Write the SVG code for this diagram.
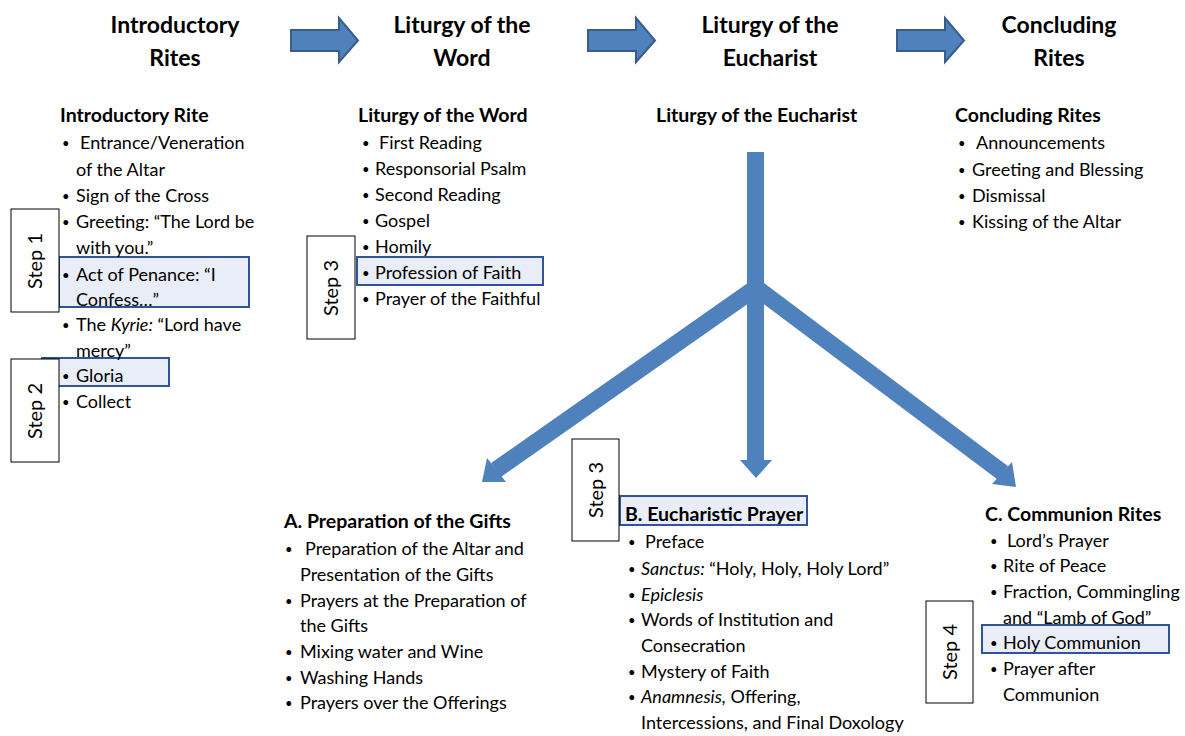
<svg xmlns="http://www.w3.org/2000/svg" width="1185" height="736" viewBox="0 0 1185 736">
<style>
text{font-family:Lato,"Liberation Sans",sans-serif;fill:#000}
.h{font-size:23px;font-weight:bold;text-anchor:middle}
.s{font-size:19.5px;font-weight:bold}
.t{font-size:18px}
.b{font-size:13px}
.hl{fill:#E9EDF7;stroke:#2F5597;stroke-width:2}
.st{fill:#fff;stroke:#000;stroke-width:1}
.stt{font-size:20px;text-anchor:middle}
.blk{fill:#4F81BD;stroke:#385D8A;stroke-width:2}
.fl{fill:#4F81BD}
</style>
<rect width="1185" height="736" fill="#fff"/>

<g id="connectors">
<polygon class="blk" points="291,30 339,30 339,18 358,40.5 339,62 339,51 291,51"/>
<polygon class="blk" points="588,30 636,30 636,18 655,40.5 636,62 636,51 588,51"/>
<polygon class="blk" points="897,30 945,30 945,18 964,40.5 945,62 945,51 897,51"/>
<rect class="fl" x="747" y="152" width="17" height="310"/>
<polygon class="fl" points="740,460 772,460 756,478"/>
<line x1="757" y1="287" x2="496" y2="470" stroke="#4F81BD" stroke-width="17"/>
<polygon class="fl" points="482,482 487,458 506,482"/>
<line x1="754" y1="286" x2="1003" y2="473" stroke="#4F81BD" stroke-width="17"/>
<polygon class="fl" points="1016,487 992,484 1012,462"/>
</g>

<g id="header-intro"><text class="h" x="175" y="33">Introductory</text><text class="h" x="175" y="66">Rites</text></g>
<g id="header-word"><text class="h" x="462" y="33">Liturgy of the</text><text class="h" x="462" y="66">Word</text></g>
<g id="header-eucharist"><text class="h" x="770" y="33">Liturgy of the</text><text class="h" x="770" y="66">Eucharist</text></g>
<g id="header-concluding"><text class="h" x="1059" y="33">Concluding</text><text class="h" x="1059" y="66">Rites</text></g>

<g id="intro-list">
<rect class="hl" x="59" y="257" width="190" height="50"/>
<rect class="hl" x="42" y="358" width="127" height="28"/>
<text class="s" x="60" y="122">Introductory Rite</text>
<text class="b" x="62" y="148">•</text><text class="t" x="80" y="149">Entrance/Veneration</text>
<text class="t" x="76" y="176">of the Altar</text>
<text class="b" x="62" y="201">•</text><text class="t" x="76" y="202">Sign of the Cross</text>
<text class="b" x="62" y="227">•</text><text class="t" x="76" y="228">Greeting: “The Lord be</text>
<text class="t" x="76" y="254">with you.”</text>
<text class="b" x="62" y="280">•</text><text class="t" x="76" y="281">Act of Penance: “I</text>
<text class="t" x="76" y="306">Confess…”</text>
<text class="b" x="62" y="330">•</text><text class="t" x="76" y="331">The <tspan font-style="italic">Kyrie:</tspan> “Lord have</text>
<text class="t" x="76" y="357">mercy”</text>
<text class="b" x="62" y="381">•</text><text class="t" x="76" y="382">Gloria</text>
<text class="b" x="62" y="407">•</text><text class="t" x="76" y="408">Collect</text>
</g>
<g id="step1"><rect class="st" x="11" y="209" width="48" height="103"/><text class="stt" transform="translate(42,261) rotate(-90)">Step 1</text></g>
<g id="step2"><rect class="st" x="11" y="359" width="48" height="103"/><text class="stt" transform="translate(42,411) rotate(-90)">Step 2</text></g>

<g id="word-list">
<rect class="hl" x="357" y="257" width="186" height="28"/>
<text class="s" x="358" y="122">Liturgy of the Word</text>
<text class="b" x="362" y="148">•</text><text class="t" x="379" y="149">First Reading</text>
<text class="b" x="362" y="174">•</text><text class="t" x="375" y="175">Responsorial Psalm</text>
<text class="b" x="362" y="200">•</text><text class="t" x="375" y="201">Second Reading</text>
<text class="b" x="362" y="226">•</text><text class="t" x="375" y="227">Gospel</text>
<text class="b" x="362" y="252">•</text><text class="t" x="375" y="253">Homily</text>
<text class="b" x="362" y="278">•</text><text class="t" x="375" y="279">Profession of Faith</text>
<text class="b" x="362" y="304">•</text><text class="t" x="375" y="305">Prayer of the Faithful</text>
</g>
<g id="step3a"><rect class="st" x="307" y="236" width="48" height="103"/><text class="stt" transform="translate(338,288) rotate(-90)">Step 3</text></g>

<g id="eucharist-title"><text class="s" x="656" y="122">Liturgy of the Eucharist</text></g>

<g id="concluding-list">
<text class="s" x="955" y="122">Concluding Rites</text>
<text class="b" x="958" y="148">•</text><text class="t" x="976" y="149">Announcements</text>
<text class="b" x="958" y="175">•</text><text class="t" x="972" y="176">Greeting and Blessing</text>
<text class="b" x="958" y="201">•</text><text class="t" x="972" y="202">Dismissal</text>
<text class="b" x="958" y="227">•</text><text class="t" x="972" y="228">Kissing of the Altar</text>
</g>

<g id="prep-gifts">
<text class="s" x="284" y="528">A. Preparation of the Gifts</text>
<text class="b" x="285" y="554">•</text><text class="t" x="305" y="555">Preparation of the Altar and</text>
<text class="t" x="300" y="581">Presentation of the Gifts</text>
<text class="b" x="285" y="606">•</text><text class="t" x="300" y="607">Prayers at the Preparation of</text>
<text class="t" x="300" y="632">the Gifts</text>
<text class="b" x="285" y="657">•</text><text class="t" x="300" y="658">Mixing water and Wine</text>
<text class="b" x="285" y="683">•</text><text class="t" x="300" y="684">Washing Hands</text>
<text class="b" x="285" y="708">•</text><text class="t" x="300" y="709">Prayers over the Offerings</text>
</g>

<g id="euch-prayer">
<rect class="hl" x="620" y="496" width="187" height="29"/>
<text class="s" x="625" y="521">B. Eucharistic Prayer</text>
<text class="b" x="628" y="547">•</text><text class="t" x="645" y="548">Preface</text>
<text class="b" x="628" y="574">•</text><text class="t" x="641" y="575"><tspan font-style="italic">Sanctus:</tspan> “Holy, Holy, Holy Lord”</text>
<text class="b" x="628" y="600">•</text><text class="t" x="641" y="601" font-style="italic">Epiclesis</text>
<text class="b" x="628" y="625">•</text><text class="t" x="641" y="626">Words of Institution and</text>
<text class="t" x="641" y="652">Consecration</text>
<text class="b" x="628" y="677">•</text><text class="t" x="641" y="678">Mystery of Faith</text>
<text class="b" x="628" y="702">•</text><text class="t" x="641" y="703"><tspan font-style="italic">Anamnesis,</tspan>  Offering,</text>
<text class="t" x="641" y="729">Intercessions, and Final Doxology</text>
</g>
<g id="step3b"><rect class="st" x="572" y="439" width="47" height="102"/><text class="stt" transform="translate(603,490) rotate(-90)">Step 3</text></g>

<g id="communion">
<rect class="hl" x="982" y="625" width="187" height="28"/>
<text class="s" x="985" y="521">C. Communion Rites</text>
<text class="b" x="990" y="546">•</text><text class="t" x="1007" y="547">Lord’s Prayer</text>
<text class="b" x="990" y="571">•</text><text class="t" x="1003" y="572">Rite of Peace</text>
<text class="b" x="990" y="597">•</text><text class="t" x="1003" y="598">Fraction, Commingling</text>
<text class="t" x="1003" y="624">and “Lamb of God”</text>
<text class="b" x="990" y="648">•</text><text class="t" x="1003" y="649">Holy Communion</text>
<text class="b" x="990" y="674">•</text><text class="t" x="1003" y="675">Prayer after</text>
<text class="t" x="1003" y="701">Communion</text>
</g>
<g id="step4"><rect class="st" x="926" y="601" width="47" height="102"/><text class="stt" transform="translate(957,652) rotate(-90)">Step 4</text></g>
</svg>
